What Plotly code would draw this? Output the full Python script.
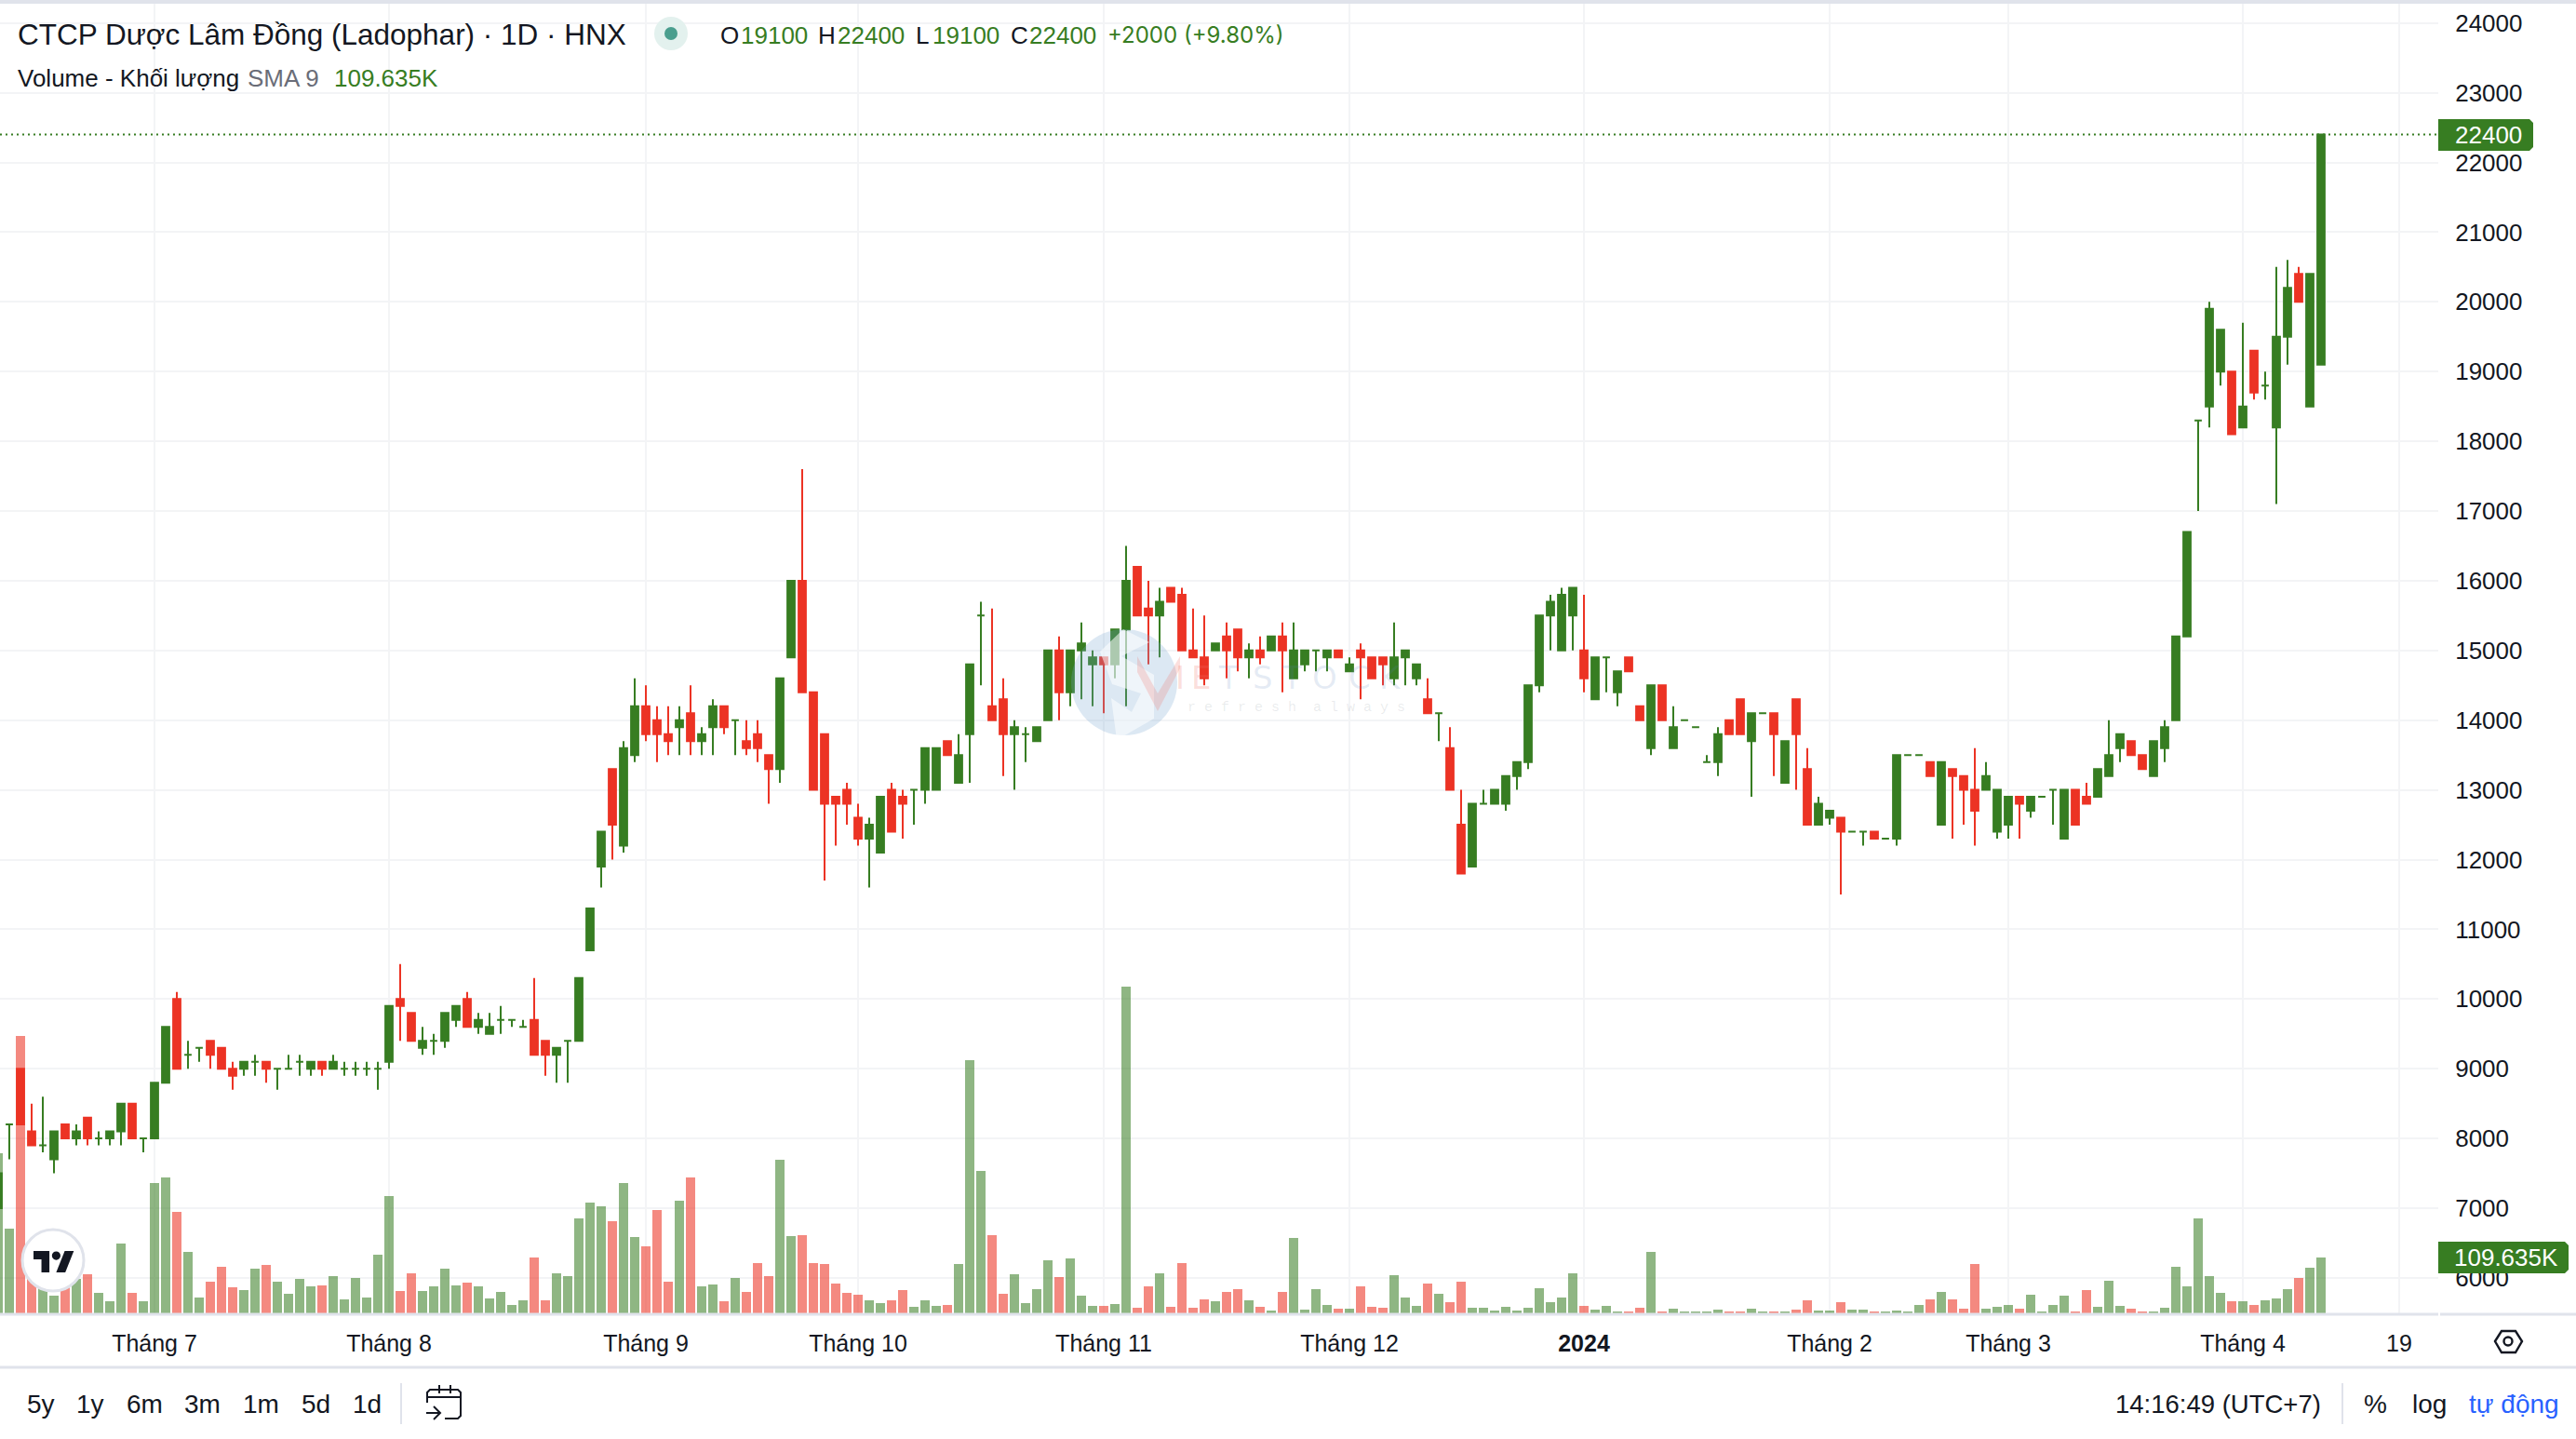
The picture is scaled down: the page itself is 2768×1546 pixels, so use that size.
import plotly.graph_objects as go

W, H = 2768, 1546
AX_R, AX_B = 2620, 1412

opens = [7000,8200,9000,8100,7900,7700,8200,8000,8300,8000,8000,8100,8500,8000,8000,8800,10000,9200,9300,9400,9300,9000,9000,9100,9100,9000,9000,9100,9000,9100,
9000,9000,9000,9000,9000,9100,10000,9800,9300,9400,9400,9700,10000,9600,9500,9700,9700,9600,9700,9400,9200,9400,9400,10700,11900,13300,12200,13500,14200,14000,
13800,13900,14100,13700,13900,14200,14000,13700,13800,13500,13300,14900,16000,14400,13800,12900,13000,12600,12300,12100,13000,12900,13000,13000,13000,13700,13100,13800,15500,14200,
14300,13800,13800,13700,14000,15000,14400,15000,14800,14900,14800,15300,16200,15600,15500,15900,15800,15000,14900,15000,15200,15300,14900,15000,15000,15200,14600,14800,15000,14900,
15000,14700,15000,14900,14900,14600,14900,14600,14300,14100,13600,12500,11900,12800,12800,12800,13200,13400,14500,15500,15000,15500,15000,14300,14900,14400,14900,14200,13600,14500,
13600,14000,13900,13400,13400,14000,14300,13700,14100,14100,13100,14300,13300,12500,12600,12600,12400,12400,12400,12300,12300,13500,13500,13400,12500,13300,13200,13000,13000,12400,
12500,12900,12700,12900,13000,12300,13000,12900,12900,13200,13600,13700,13500,13200,13600,14000,15200,18300,18500,19000,19000,18200,19300,18800,18200,19500,20400,18500,19100]
highs = [7500,8200,9000,8500,8600,8100,8200,8200,8300,8100,8100,8500,8500,8000,8800,9600,10100,9400,9300,9400,9300,9100,9100,9200,9100,9000,9200,9200,9100,9100,
9200,9100,9100,9100,9100,9900,10500,9800,9600,9500,9800,9900,10100,9800,9800,9900,9700,9700,10300,9400,9300,9400,10300,11300,12400,13300,13700,14600,14500,14200,
14200,14200,14500,13900,14300,14200,14000,14000,14000,13500,14600,16000,17600,14400,13800,12900,13100,12800,12600,12900,13100,13000,13000,13600,13600,13700,13800,14800,15700,15600,
14600,14000,13900,13900,15000,15200,15000,15400,15000,14900,15300,16500,16200,16000,15900,15900,15900,15600,15500,15100,15400,15300,15100,15200,15200,15400,15400,15000,15000,15000,
15000,14900,15100,14900,14900,15400,15000,14800,14600,14100,13900,13000,12800,13000,13000,13200,13400,14500,15500,15800,15900,15900,15800,14900,14900,14700,14900,14200,14500,14500,
14200,14000,13900,13500,13900,14000,14300,14100,14100,14100,13700,14300,13600,12900,12700,12600,12400,12400,12400,12300,13500,13500,13500,13400,13400,13300,13200,13600,13400,13000,
12900,12900,12900,12900,13000,13000,13000,13100,13300,14000,13800,13700,13500,13700,14000,15200,16700,18300,20000,19600,19000,19700,19300,19000,20500,20600,20500,20400,22400]
lows = [7000,7700,8200,7900,7800,7500,8000,7900,7900,7900,7900,7900,8000,7800,8000,8800,9000,9000,9100,9000,9000,8700,8900,8900,8800,8700,9000,8900,8900,8900,
9000,8900,8900,8900,8700,9000,9400,9400,9200,9200,9300,9600,9600,9500,9500,9500,9600,9600,9200,8900,8800,8800,9400,10700,11600,12000,12100,13400,13700,13400,
13500,13500,13500,13500,13500,13800,13500,13500,13400,12800,13100,14900,14400,13000,11700,12200,12500,12200,11600,12100,12400,12300,12500,12800,13000,13500,13100,13100,14500,14000,
13200,13000,13400,13700,14000,14000,14200,14300,14200,14100,14600,14200,15500,14800,14900,15700,15000,14900,14500,15000,14600,14700,14600,14800,15000,14400,14600,14700,14700,14700,
14900,14700,14300,14600,14500,14500,14500,14500,14100,13700,13000,11800,11900,12800,12800,12700,13000,13300,14400,15000,15000,15000,14400,14300,14400,14200,14700,14000,13500,14000,
13600,14000,13900,13400,13200,13800,13800,12900,14100,13200,13100,13000,12500,12500,12500,11500,12400,12200,12300,12300,12200,13500,13500,13200,12500,12300,12500,12200,13000,12300,
12300,12300,12600,12900,12500,12300,12500,12800,12900,13200,13400,13500,13300,13200,13400,14000,15200,17000,18200,18800,18100,18200,18600,18600,17100,19100,20000,18500,19100]
closes = [7500,8200,8200,7900,7900,8100,8000,8100,8000,8000,8100,8500,8000,8000,8800,9600,9000,9200,9300,9200,9000,8900,9100,9100,9000,9000,9000,9100,9100,9000,
9100,9000,9000,9000,9000,9900,9900,9400,9400,9400,9800,9900,9600,9700,9600,9700,9700,9600,9200,9200,9300,9400,10300,11300,12400,12500,13600,14200,13800,13800,
13700,14000,13700,13800,14200,13900,14000,13600,13600,13300,14600,16000,14400,13000,12800,12800,12800,12300,12500,12900,12400,12800,13000,13600,13600,13500,13500,14800,15500,14000,
13800,13900,13800,13900,15000,14400,15000,15100,14900,14800,15300,16000,15500,15500,15700,15700,15000,14900,14600,15100,15000,14900,15000,14900,15200,15000,15000,15000,15000,15000,
14900,14800,14900,14600,14800,14900,15000,14800,14100,14100,13000,11800,12800,12800,13000,13200,13400,14500,15500,15700,15800,15900,14600,14900,14900,14700,14700,14000,14500,14000,
13900,14000,13900,13400,13800,13800,13800,14100,14100,13800,13700,13800,12500,12800,12700,12400,12400,12400,12300,12300,13500,13500,13500,13200,13400,13200,13000,12700,13200,13000,
12900,12800,12900,12900,13000,13000,12500,12800,13300,13500,13800,13500,13300,13700,13900,15200,16700,18300,19900,19600,18100,18500,18700,18800,19500,20200,20000,20400,22400]
volumes_k = [314,166,544,67,51,34,51,67,76,40,24,137,40,24,256,267,199,120,32,62,91,51,45,88,95,62,38,67,53,55,
73,27,69,31,116,230,44,78,44,53,88,55,60,53,29,42,17,25,109,25,78,73,187,217,210,181,256,150,131,202,
62,221,267,53,57,24,69,42,99,74,302,152,153,99,97,59,40,36,25,20,25,45,13,25,15,17,97,497,279,153,
38,76,20,47,104,71,108,34,15,15,18,642,11,53,78,13,99,11,27,24,42,47,25,13,5,42,148,7,47,16,
9,9,53,13,11,75,31,15,58,38,22,62,11,11,5,13,5,11,49,22,31,79,15,7,15,4,4,11,121,4,
9,4,4,4,7,4,4,9,4,4,4,7,26,5,5,22,7,7,4,4,5,4,16,27,42,27,9,97,9,13,
16,9,37,4,16,35,4,46,13,64,15,9,4,4,11,91,53,186,73,40,24,24,16,26,29,47,69,90,110]

month_positions = [14,35,58,77,99,121,142,164,180,201,215]
month_labels = ["Tháng 7","Tháng 8","Tháng 9","Tháng 10","Tháng 11","Tháng 12","<b>2024</b>","Tháng 2","Tháng 3","Tháng 4","19"]
last_price = closes[-1]
range_buttons = [("5y",28),("1y",81),("6m",135),("3m",197),("1m",260),("5d",323),("1d",378)]
watermark_letters = [("I",1268,"r"),("E",1290,"r"),("T",1320,"b"),("S",1357,"b"),("T",1388,"b"),("O",1423,"b"),("C",1461,"b"),("K",1494,"b")]

GREEN, RED = "#377D22", "#EC3324"
INK, GRID, EDGE = "#131722", "#F3F4F6", "#E0E3EB"
FONT = "Liberation Sans"
ALT = "Inter"

idx = list(range(len(opens)))
up = [i for i in idx if closes[i] >= opens[i]]
dn = [i for i in idx if closes[i] < opens[i]]

def px(x): return x / W
def py(y): return 1 - y / H

def candles(sel, col):
    return go.Candlestick(
        x=sel, open=[opens[i] for i in sel], high=[highs[i] for i in sel],
        low=[lows[i] for i in sel], close=[closes[i] for i in sel],
        increasing=dict(line=dict(color=col, width=2), fillcolor=col),
        decreasing=dict(line=dict(color=col, width=2), fillcolor=col),
        yaxis="y2", showlegend=False, hoverinfo="skip")

fig = go.Figure()
fig.add_trace(go.Bar(
    x=idx, y=volumes_k, width=0.83, yaxis="y", showlegend=False, hoverinfo="skip",
    marker=dict(color=["rgba(55,125,34,0.56)" if closes[i] >= opens[i] else "rgba(236,51,36,0.58)" for i in idx],
                line=dict(width=0))))
fig.add_trace(candles(up, GREEN))
fig.add_trace(candles(dn, RED))

shapes, annotations = [], []

def path_shape(points, fill=None, line=None, width=2, close=True, layer="above"):
    d = "M " + " L ".join(f"{px(x):.6f},{py(y):.6f}" for x, y in points) + (" Z" if close else "")
    shapes.append(dict(type="path", xref="paper", yref="paper", path=d, fillcolor=fill or "rgba(0,0,0,0)",
                       line=dict(color=line or "rgba(0,0,0,0)", width=width if line else 0), layer=layer))

def rect(x0, y0, x1, y1, fill, layer="above"):
    shapes.append(dict(type="rect", xref="paper", yref="paper", x0=px(x0), x1=px(x1), y0=py(y0), y1=py(y1),
                       fillcolor=fill, line=dict(width=0), layer=layer))

def seg(x0, y0, x1, y1, col, width=2):
    shapes.append(dict(type="line", xref="paper", yref="paper", x0=px(x0), x1=px(x1), y0=py(y0), y1=py(y1),
                       line=dict(color=col, width=width), layer="above"))

def circle(cx, cy, r, fill, line=None, width=0):
    shapes.append(dict(type="circle", xref="paper", yref="paper", x0=px(cx - r), x1=px(cx + r), y0=py(cy - r), y1=py(cy + r),
                       fillcolor=fill, line=dict(color=line or "rgba(0,0,0,0)", width=width), layer="above"))

def text(t, x, y, col=INK, size=26, anchor="left", family=FONT):
    annotations.append(dict(text=t, x=px(x), y=py(y), xref="paper", yref="paper", showarrow=False,
                            xanchor=anchor, yanchor="middle", font=dict(family=family, size=size, color=col), borderpad=0))

# frame
rect(0, 0, W, 4, EDGE)
seg(0, AX_B, AX_R, AX_B, EDGE, 3)
seg(AX_R + 2, AX_B, W, AX_B, EDGE, 3)
seg(0, 1469, W, 1469, EDGE, 3)
seg(431, 1486, 431, 1530, EDGE, 2)
seg(2517, 1486, 2517, 1530, EDGE, 2)

# last price line, tied to the price scale
shapes.append(dict(type="line", xref="paper", yref="y2", x0=0, x1=px(AX_R), y0=last_price, y1=last_price,
                   line=dict(color=GREEN, width=2, dash="2px,4px"), layer="above"))

# price / volume tags
def tag(x1, y0, y1, label, cx):
    r = 4
    path_shape([(AX_R, y0), (x1 - r, y0), (x1, y0 + r), (x1, y1 - r), (x1 - r, y1), (AX_R, y1)], fill=GREEN)
    text(label, cx, (y0 + y1) / 2, "#FFFFFF", 26, "center")
tag(2722, 128, 162, str(last_price), 2674)
tag(2760, 1334, 1368, "109.635K", 2693)

# header
text("CTCP Dược Lâm Đồng (Ladophar) · 1D · HNX", 18, 37, INK, 31.5)
circle(721, 36, 18, "#E3F1EE")
circle(721, 36, 7, "#4A9E8E")
for t, x, c in [("O", 773, INK), ("19100", 795, GREEN), ("H", 878, INK), ("22400", 899, GREEN), ("L", 983, INK),
                ("19100", 1001, GREEN), ("C", 1085, INK), ("22400", 1105, GREEN)]:
    text(t, x, 38, c, 26)
text("+2000 (+9.80%)", 1189, 38, GREEN, 24, family=ALT)
text("Volume - Khối lượng", 18, 84, INK, 26)
text("SMA 9", 265, 84, "#6A6D78", 26)
text("109.635K", 358, 84, GREEN, 26)

# toolbar
for t, x in range_buttons:
    text(t, x, 1508, INK, 28)
text("14:16:49 (UTC+7)", 2272, 1508, INK, 27.5)
text("%", 2539, 1508, INK, 28)
text("log", 2591, 1508, INK, 28)
text("tự động", 2652, 1508, "#2962FF", 28)

# calendar icon
path_shape([(459, 1507), (459, 1496), (462, 1493), (492, 1493), (495, 1496), (495, 1521), (492, 1524), (478, 1524)], line=INK, close=False)
seg(459, 1501, 495, 1501, INK)
seg(472, 1488, 472, 1497, INK)
seg(484, 1488, 484, 1497, INK)
seg(458, 1518, 473, 1518, INK)
path_shape([(466, 1511), (473, 1518), (466, 1525)], line=INK, close=False)

# settings icon
path_shape([(2681, 1441), (2688, 1430), (2703, 1430), (2710, 1441), (2703, 1453), (2688, 1453)], line=INK, width=2.4)
circle(2695, 1441, 4.5, "#FFFFFF", INK, 2.4)

# TradingView badge
circle(57, 1354, 33, "#FFFFFF", EDGE, 3)
def tv(X, Y): return (36 + 1.22 * X, 1344 + 1.28 * (Y - 4))
path_shape([tv(*p) for p in [(14, 22), (7, 22), (7, 11), (0, 11), (0, 4), (14, 4)]], fill=INK)
path_shape([tv(*p) for p in [(28, 22), (20, 22), (27.5, 4), (35.5, 4)]], fill=INK)
circle(*tv(20, 8), 4.6, INK)

# Vietstock watermark
circle(1208, 733, 57, "rgba(120,165,210,0.26)")
path_shape([(1207, 676), (1182, 700), (1195, 735), (1226, 745), (1216, 765), (1194, 750), (1200, 795), (1240, 772), (1240, 725), (1205, 705), (1235, 690)], fill="rgba(255,255,255,0.55)")
path_shape([(1222, 705), (1244, 745), (1268, 705), (1268, 718), (1244, 764), (1222, 722)], fill="rgba(240,110,100,0.22)")
for t, x, k in watermark_letters:
    text(t, x, 728, "rgba(240,110,100,0.24)" if k == "r" else "rgba(90,130,190,0.16)", 34, "center", "DejaVu Sans")
text("r e f r e s h  a l w a y s", 1275, 760, "rgba(120,130,140,0.16)", 15, family="Liberation Mono")

fig.update_layout(
    width=W, height=H, margin=dict(l=0, r=0, t=0, b=0),
    paper_bgcolor="#FFFFFF", plot_bgcolor="#FFFFFF", boxgap=0.35, boxgroupgap=0, bargap=0,
    showlegend=False, shapes=shapes, annotations=annotations,
    xaxis=dict(domain=[0, px(AX_R)], range=[1 / 6, 218.5], tickmode="array", tickvals=month_positions, ticktext=month_labels,
               showgrid=True, gridcolor=GRID, gridwidth=2, zeroline=False, showline=False, ticks="outside", ticklen=9,
               tickcolor="rgba(0,0,0,0)", tickfont=dict(family=FONT, size=25, color=INK), rangeslider=dict(visible=False),
               tickangle=0, anchor="y"),
    yaxis=dict(domain=[py(AX_B), 1], range=[-1.8, 2578], visible=False, fixedrange=True),
    yaxis2=dict(domain=[py(AX_B), 1], range=[5478, 24330], overlaying="y", side="right", anchor="x", dtick=1000, tick0=0,
                showgrid=True, gridcolor=GRID, gridwidth=2, zeroline=False, showline=False, ticks="outside", ticklen=12,
                tickcolor="rgba(0,0,0,0)", tickformat="d", tickfont=dict(family=FONT, size=26, color=INK)),
)

fig.write_html("out.html", config=dict(displayModeBar=False), post_script="document.body.style.margin='0';")
